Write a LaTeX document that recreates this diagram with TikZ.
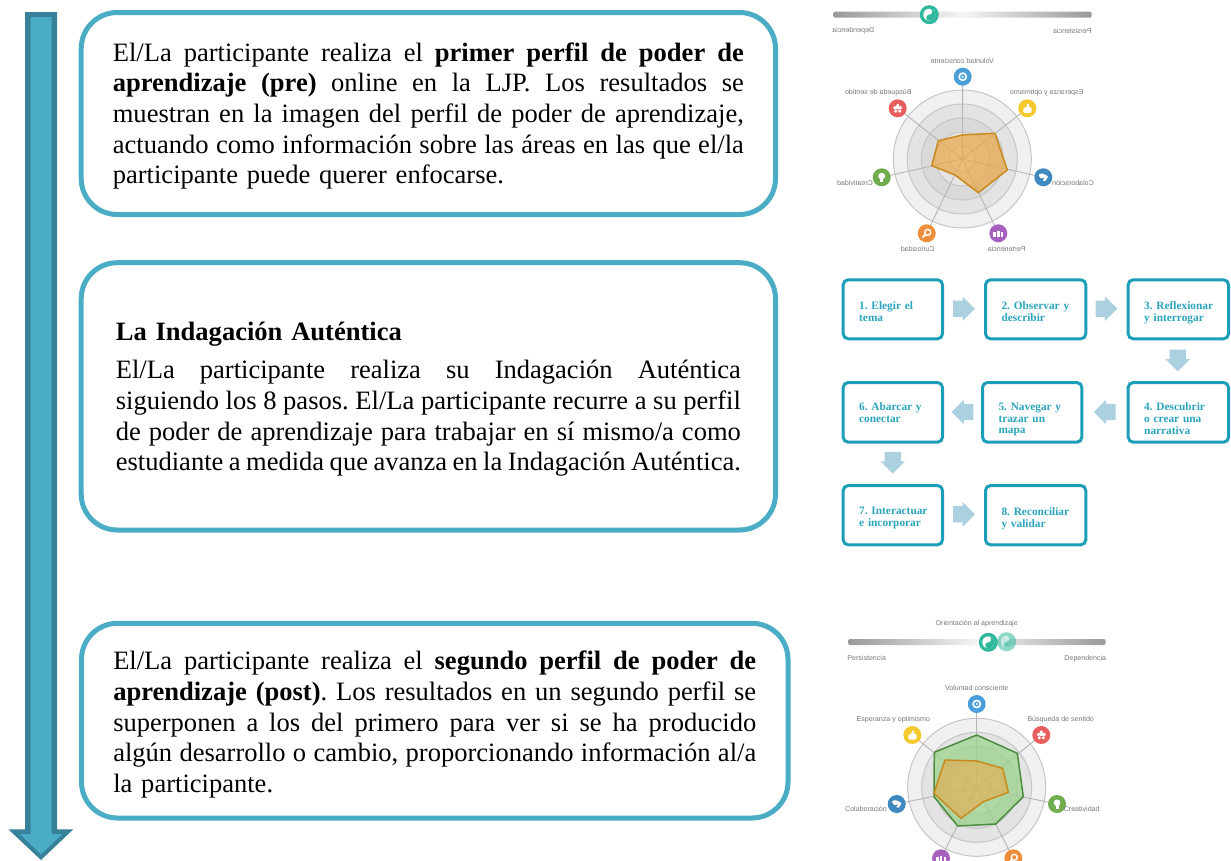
\documentclass[tikz,border=0pt]{standalone}
\usepackage{fontspec}
\setmainfont{Liberation Serif}
\setsansfont{Liberation Sans}
\usetikzlibrary{shapes.arrows,shapes.geometric,calc}
\newdimen\pxu \pxu=.75pt
\frenchspacing
\definecolor{aqua}{HTML}{4BACC6}
\definecolor{aquadark}{HTML}{37819A}
\definecolor{flowc}{HTML}{1C9DB8}
\definecolor{flowt}{HTML}{2AA3BC}
\definecolor{flowa}{HTML}{ABD0E0}
\definecolor{lab}{HTML}{777777}
\definecolor{spoke}{HTML}{B5B5B5}
\definecolor{ringline}{HTML}{C6C6C6}
\definecolor{icblue}{HTML}{4A9FD8}
\definecolor{icyel}{HTML}{F4C92E}
\definecolor{icnavy}{HTML}{3F88C0}
\definecolor{icpur}{HTML}{A661BF}
\definecolor{icora}{HTML}{EE8D3A}
\definecolor{icgre}{HTML}{6FAD4E}
\definecolor{icred}{HTML}{E85D5D}
\definecolor{knob}{HTML}{2FB89B}
\definecolor{orfill}{HTML}{E9A94A}
\definecolor{orline}{HTML}{C98A1E}
\definecolor{grfill}{HTML}{9AD48A}
\definecolor{grline}{HTML}{4C8C3F}
\tikzset{
  x=.75pt,y=-.75pt,
  mainbox/.style={draw=aqua,line width=5\pxu,rounded corners=36\pxu,inner sep=0pt,
    font=\fontsize{19.9pt}{23pt}\selectfont},
  flowbox/.style={draw=flowc,line width=3\pxu,rounded corners=5\pxu,inner xsep=10\pxu,inner ysep=0pt,
    text=flowt,font=\bfseries\fontsize{8.5pt}{8.8pt}\selectfont},
  flowarrow/.style={single arrow,draw=none,fill=flowa,minimum height=21.7\pxu,
    single arrow head extend=4.1\pxu,inner xsep=0pt,inner ysep=7.9\pxu,outer sep=0pt},
  lbl/.style={font=\sffamily\fontsize{5.3pt}{6pt}\selectfont,text=lab,inner sep=0pt},
  mlbl/.style={lbl,xscale=-1,transform shape},
  icondot/.style={circle,minimum size=18\pxu,inner sep=0pt},
}
\newcommand{\jl}[1]{\hbox to \hsize{\spaceskip=.25em plus .6em minus .12em\relax #1}}
\newcommand{\mbx}[8]{%
  \node[mainbox,text width={#6*\pxu},inner xsep={(#4-#2-#6)/2*\pxu}]
    (#1) at ({(#2+#4)/2},{(#3+#5)/2})
    {\parbox[c][\dimexpr(#5\pxu-#3\pxu)][t]{#6\pxu}{\vspace*{#7\pxu}#8}};}
\newcommand{\fbx}[6]{%
  \node[flowbox,text width={(#4-#2-20)*\pxu}]
    (#1) at ({(#2+#4)/2},{(#3+#5)/2})
    {\parbox[c][\dimexpr(#5\pxu-#3\pxu)][t]{\dimexpr(#4\pxu-#2\pxu-20\pxu)}{\raggedright\leftskip=6\pxu\vspace*{22\pxu}#6}};}
\newcommand{\rings}[2]{%
  \coordinate (#1c) at (#2);
  \draw[ringline,fill=black!6,line width=1\pxu] (#1c) circle (69);
  \draw[ringline,fill=black!11,line width=1\pxu] (#1c) circle (55);
  \draw[ringline,fill=black!15,line width=1\pxu] (#1c) circle (41);
  \draw[ringline,fill=black!10,line width=1\pxu] (#1c) circle (27);
  \draw[ringline,fill=black!7,line width=1\pxu] (#1c) circle (13);}
\newcommand{\knobg}[3]{%
  \node[circle,fill=knob,inner sep=0pt,minimum size=19\pxu,opacity=#3] (#1) at (#2) {};
  \fill[white,opacity=#3] (#1) circle (6);
  \fill[knob,opacity=#3] ($(#1)+(0,-6)$) arc[start angle=-90,end angle=90,radius=6] arc[start angle=90,end angle=270,radius=3] arc[start angle=90,end angle=-90,radius=3] -- cycle;
  \fill[white,opacity=#3] ($(#1)+(0,-3)$) circle (1);
  \fill[knob,opacity=#3] ($(#1)+(0,3)$) circle (1);}
\newcommand{\slider}[4]{%
  \shade[left color=black!40,right color=black!40,middle color=black!4,rounded corners=1.5\pxu]
     (#2,#4-3) rectangle (#3,#4+3);}
\newcommand{\gEye}[1]{\draw[white,line width=1.6\pxu] (#1) circle (3.6); \fill[white] (#1) circle (1.2);}
\newcommand{\gThumb}[1]{\fill[white,rounded corners=1\pxu] ($(#1)+(-4,-.5)$) -- ($(#1)+(-1.5,-.5)$) -- ($(#1)+(.5,-5)$) -- ($(#1)+(2,-4)$) -- ($(#1)+(1.5,-.8)$) -- ($(#1)+(4.5,-.8)$) -- ($(#1)+(4,4.5)$) -- ($(#1)+(-4,4.5)$) -- cycle;}
\newcommand{\gHand}[1]{\fill[white,rounded corners=1\pxu] ($(#1)+(-5,-3)$) -- ($(#1)+(-1,-4)$) -- ($(#1)+(5,-1)$) -- ($(#1)+(2,4)$) -- ($(#1)+(-1,3)$) -- ($(#1)+(2,.5)$) -- ($(#1)+(-3,1)$) -- cycle;}
\newcommand{\gPeople}[1]{\fill[white] ($(#1)+(-5,-1)$) rectangle ($(#1)+(-2.5,3.5)$);\fill[white] ($(#1)+(-1.3,-2)$) rectangle ($(#1)+(1.3,3.5)$);\fill[white] ($(#1)+(2.5,-1)$) rectangle ($(#1)+(5,3.5)$);}
\newcommand{\gMag}[1]{\draw[white,line width=1.4\pxu] ($(#1)+(1,-1)$) circle (3); \draw[white,line width=1.8\pxu] ($(#1)+(-1,1)$) -- ($(#1)+(-4.2,4.2)$);}
\newcommand{\gBulb}[1]{\fill[white] ($(#1)+(0,-1.2)$) circle (3.4); \fill[white] ($(#1)+(-1.5,1)$) rectangle ($(#1)+(1.5,4.6)$);}
\newcommand{\gStar}[1]{\fill[white] ($(#1)+(0,-1)$) circle (2.2);\fill[white] ($(#1)+(-2.8,-.5)$) circle (1.9);\fill[white] ($(#1)+(2.8,-.5)$) circle (1.9);\fill[white] ($(#1)+(-2,2.8)$) circle (1.7);\fill[white] ($(#1)+(2,2.8)$) circle (1.7);\fill[white] ($(#1)+(0,-3.2)$) circle (1.5);}
\newcommand{\icon}[4]{\node[icondot,fill=#3] (#1) at (#2) {}; #4{#1}}
\begin{document}
\begin{tikzpicture}[x=.75pt,y=-.75pt]
\useasboundingbox (0,0) rectangle (1231,860);
\begin{scope}
\clip (0,0) rectangle (1231,860);
\fill[aquadark] (25,12) -- (57,12) -- (57,829.3) -- (73.3,829.3) -- (41,860) -- (8.3,829.3) -- (25,829.3) -- cycle;
\fill[aqua] (30.7,17) -- (51.7,17) -- (51.7,834) -- (62.3,834) -- (41,854.3) -- (19.7,834) -- (30.7,834) -- cycle;
\mbx{boxa}{81.2}{12.5}{775.5}{214.5}{631}{30}{%
\jl{El/La participante realiza el \textbf{primer perfil de poder de}}
\jl{\textbf{aprendizaje (pre)} online en la LJP. Los resultados se}
\jl{muestran en la imagen del perfil de poder de aprendizaje,}
\jl{actuando como información sobre las áreas en las que el/la}
\hbox{participante puede querer enfocarse.}}
\mbx{boxb}{81.2}{262.7}{775.5}{530}{625}{59}{%
\hbox{\textbf{La Indagación Auténtica}}\vspace{8\pxu}
\jl{El/La participante realiza su Indagación Auténtica}
\jl{siguiendo los 8 pasos. El/La participante recurre a su perfil}
\jl{de poder de aprendizaje para trabajar en sí mismo/a como}
\jl{estudiante a medida que avanza en la Indagación Auténtica.}}
\mbx{boxc}{81.5}{623.3}{788}{818}{643}{28}{%
\jl{El/La participante realiza el \textbf{segundo perfil de poder de}}
\jl{\textbf{aprendizaje (post)}. Los resultados en un segundo perfil se}
\jl{superponen a los del primero para ver si se ha producido}
\jl{algún desarrollo o cambio, proporcionando información al/a}
\hbox{la participante.}}
\slider{sa}{833.3}{1091.7}{14.7}
\knobg{ka}{929.3,14.7}{1}
\node[mlbl] (la1) at (853.3,30.7) {Dependencia};
\node[mlbl] (la2) at (1072.3,30.7) {Persistencia};
\rings{ra}{962.3,159}
\coordinate (pa1) at (962.7,76.7);\coordinate (pa2) at (1027.3,108.3);\coordinate (pa3) at (1043.3,177.3);
\coordinate (pa4) at (998.3,233.3);\coordinate (pa5) at (926.7,233.3);\coordinate (pa6) at (881.7,177.3);\coordinate (pa7) at (897.7,108.3);
\foreach \p in {pa1,pa2,pa3,pa4,pa5,pa6,pa7} \draw[spoke,line width=.9\pxu] (rac) -- (\p);
\draw[orline,fill=orfill,fill opacity=.72,line width=1.5\pxu,line join=round] (962.3,135) -- (995,133.3) -- (1007.3,170) -- (978.3,192.7) -- (955,175) -- (931.7,165.7) -- (938.3,140.7) -- cycle;
\icon{ia1}{pa1}{icblue}{\gEye}
\icon{ia2}{pa2}{icyel}{\gThumb}
\icon{ia3}{pa3}{icnavy}{\gHand}
\icon{ia4}{pa4}{icpur}{\gPeople}
\icon{ia5}{pa5}{icora}{\gMag}
\icon{ia6}{pa6}{icgre}{\gBulb}
\icon{ia7}{pa7}{icred}{\gStar}
\node[mlbl] (ta1) at (962.3,61) {Voluntad consciente};
\node[mlbl] (ta2) at (1046.7,92.7) {Esperanza y optimismo};
\node[mlbl] (ta3) at (1073,183.3) {Colaboración};
\node[mlbl] (ta4) at (1006.7,249) {Pertenencia};
\node[mlbl] (ta5) at (917.7,249) {Curiosidad};
\node[mlbl] (ta6) at (855,183.3) {Creatividad};
\node[mlbl] (ta7) at (878.3,92.7) {Búsqueda de sentido};
\fbx{f1}{843.2}{279.8}{942.5}{338.8}{1. Elegir el\\tema}
\fbx{f2}{985.5}{279.8}{1085.8}{338.8}{2. Observar y\\describir}
\fbx{f3}{1128.2}{279.8}{1228.5}{338.8}{3. Reflexionar\\y interrogar}
\fbx{f6}{843.2}{382.5}{942.5}{442.2}{\vspace*{-1.5\pxu}6. Abarcar y\\conectar}
\fbx{f5}{982.5}{382.5}{1081.8}{442.2}{\vspace*{-1.5\pxu}5. Navegar y\\trazar un\\mapa}
\fbx{f4}{1128.2}{382.5}{1228.5}{442.2}{\vspace*{-1.5\pxu}4. Descubrir\\o crear una\\narrativa}
\fbx{f7}{843.2}{485.5}{942.5}{544.8}{7. Interactuar\\e incorporar}
\fbx{f8}{985.5}{485.5}{1085.8}{544.8}{8. Reconciliar\\y validar}
\node[flowarrow] (a12) at (960,308.7) {};
\node[flowarrow] (a23) at (1102.3,308.7) {};
\node[flowarrow,rotate=-90] (a34) at (1177.7,356.5) {};
\node[flowarrow,rotate=180] (a45) at (1108.8,412) {};
\node[flowarrow,rotate=180] (a56) at (966.5,412) {};
\node[flowarrow,rotate=-90] (a67) at (892.7,458.7) {};
\node[flowarrow] (a78) at (960,514.3) {};
\node[lbl] (lc0) at (976.7,623.3) {Orientación al aprendizaje};
\slider{sc}{848}{1105.7}{642}
\knobg{kc2}{1006.7,641.7}{.55}
\knobg{kc}{988.3,642.3}{1}
\node[lbl] (lc1) at (866.7,658.3) {Persistencia};
\node[lbl] (lc2) at (1085.3,658.3) {Dependencia};
\rings{rc}{976.7,787.3}
\coordinate (pc1) at (976.7,704);\coordinate (pc2) at (1041.3,735);\coordinate (pc3) at (1057,804);
\coordinate (pc4) at (1013.3,858.3);\coordinate (pc5) at (941,858.3);\coordinate (pc6) at (896.7,804);\coordinate (pc7) at (912.3,735);
\foreach \p in {pc1,pc2,pc3,pc4,pc5,pc6,pc7} \draw[spoke,line width=.9\pxu] (rcc) -- (\p);
\draw[grline,fill=grfill,fill opacity=.7,line width=1.5\pxu,line join=round] (976.7,735) -- (1017.3,753.3) -- (1023.3,796.7) -- (995.7,824) -- (957.7,826) -- (934,796.7) -- (934.3,752.3) -- cycle;
\draw[orline,fill=orfill,fill opacity=.6,line width=1.5\pxu,line join=round] (976.7,761) -- (1002.7,768.3) -- (1008.3,792.3) -- (983.3,801.7) -- (961,818.3) -- (934,793.3) -- (945,760) -- cycle;
\icon{ic1}{pc1}{icblue}{\gEye}
\icon{ic2}{pc2}{icred}{\gStar}
\icon{ic3}{pc3}{icgre}{\gBulb}
\icon{ic4}{pc4}{icora}{\gMag}
\icon{ic5}{pc5}{icpur}{\gPeople}
\icon{ic6}{pc6}{icnavy}{\gHand}
\icon{ic7}{pc7}{icyel}{\gThumb}
\node[lbl] (tc1) at (976.7,688) {Voluntad consciente};
\node[lbl] (tc2) at (1060.7,719.3) {Búsqueda de sentido};
\node[lbl] (tc3) at (1081.7,809.3) {Creatividad};
\node[lbl] (tc6) at (866,809.3) {Colaboración};
\node[lbl] (tc7) at (893.3,719.3) {Esperanza y optimismo};
\end{scope}
\end{tikzpicture}
\end{document}
